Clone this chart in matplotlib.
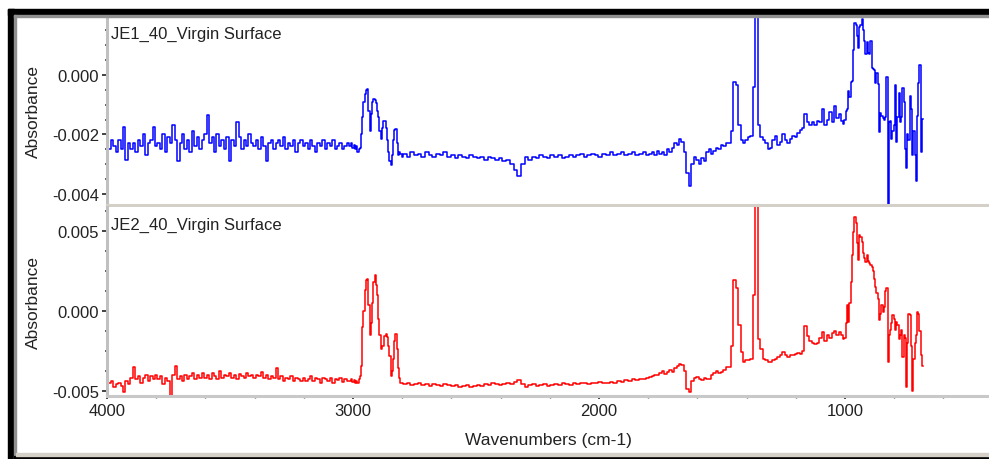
import numpy as np
import matplotlib
matplotlib.use('Agg')
import matplotlib.pyplot as plt
from matplotlib.patches import Rectangle
from matplotlib.ticker import MultipleLocator, FixedLocator, FormatStrFormatter

plt.rcParams['font.family'] = ['Liberation Sans', 'DejaVu Sans']
plt.rcParams['axes.unicode_minus'] = False

# wavenumber sampling (cm-1): coarse on the flat baseline, finer over the bands
wn = np.concatenate([np.arange(4000, 3015, -10), np.arange(3010, 2795, -5),
                     np.arange(2790, 1795, -15), np.arange(1790, 1005, -10),
                     np.arange(1005, 680, -5)])

# absorbance, in milli-absorbance units, one list per wn segment
je1_seg1 = [-2.1, -2.5, -2.2, -2.4, -2.6, -2.2, -2.5, -1.75, -2.85, -2.3,
            -2.5, -2.3, -2.6, -2.2, -2.4, -2.0, -2.7, -2.3, -2.2, -1.75,
            -2.4, -2.3, -2.5, -2.0, -2.6, -2.1, -2.3, -1.7, -2.2, -2.9,
            -2.3, -2.0, -2.5, -2.2, -2.6, -1.9, -2.4, -2.1, -2.5, -2.2,
            -2.0, -1.35, -2.3, -2.1, -2.6, -2.0, -2.4, -2.2, -2.5, -2.1,
            -2.9, -2.2, -2.4, -1.6, -2.1, -2.5, -2.2, -2.4, -2.0, -2.3,
            -2.4, -2.2, -2.5, -2.1, -2.4, -2.9, -2.3, -2.2, -2.5, -2.3,
            -2.2, -2.4, -2.1, -2.5, -2.3, -2.4, -2.2, -2.6, -2.3, -2.2,
            -2.4, -2.3, -2.5, -2.2, -2.4, -2.6, -2.3, -2.4, -2.2, -2.5,
            -2.3, -2.4, -2.2, -2.5, -2.4, -2.3, -2.5, -2.4, -2.3]
je1_seg2 = [-2.4, -2.3, -2.45, -2.35, -2.5, -2.4, -2.6, -2.5, -2.45, -2.0,
            -1.4, -0.9, -0.65, -0.5, -0.47, -1.2, -1.9, -1.3, -0.9, -0.8,
            -0.85, -0.96, -1.2, -1.4, -1.9, -2.15, -1.8, -1.55, -1.55, -1.8,
            -2.2, -2.6, -2.9, -3.03, -2.7, -2.2, -1.85, -1.82, -2.3, -2.7,
            -2.6, -2.65, -2.75]
je1_seg3 = [-2.65, -2.75, -2.6, -2.7, -2.65, -2.75, -2.6, -2.7, -2.75, -2.65,
            -2.7, -2.6, -2.75, -2.7, -2.8, -2.7, -2.75, -2.8, -2.7, -2.75,
            -2.8, -2.75, -2.85, -2.75, -2.8, -2.85, -2.8, -2.9, -2.85, -3.0,
            -3.2, -3.4, -3.0, -2.75, -2.85, -2.75, -2.8, -2.7, -2.75, -2.8,
            -2.7, -2.75, -2.7, -2.8, -2.75, -2.7, -2.75, -2.7, -2.65, -2.75,
            -2.7, -2.65, -2.7, -2.75, -2.65, -2.7, -2.6, -2.7, -2.65, -2.6,
            -2.7, -2.65, -2.6, -2.7, -2.65, -2.6, -2.7]
je1_seg4 = [-2.65, -2.6, -2.7, -2.55, -2.65, -2.6, -2.7, -2.5, -2.6, -2.45,
            -2.3, -2.35, -2.15, -2.25, -2.6, -3.3, -3.75, -3.0, -2.75, -2.85,
            -3.0, -2.8, -2.9, -2.6, -2.5, -2.65, -2.55, -2.45, -2.5, -2.35,
            -2.4, -2.3, -2.3, -1.9, -0.25, -0.35, -1.7, -2.2, -2.3, -2.2,
            -2.1, -2.05, -0.4, 2.5, -1.7, -2.1, -2.2, -2.3, -2.5, -2.45,
            -2.2, -2.05, -2.35, -2.25, -2.0, -2.2, -2.3, -2.15, -2.05, -2.1,
            -1.95, -1.85, -1.8, -1.3, -1.6, -1.7, -1.6, -1.7, -1.55, -1.6,
            -1.15, -1.7, -1.5, -1.25, -1.6, -1.05, -1.45, -1.3, -1.55]
je1_seg5 = [-1.65, -1.5, -1.2, -1.15, -0.55, -0.75, -0.25, -0.2, 0.85, 1.75,
            1.7, 1.3, 0.9, 1.6, 1.7, 1.87, 1.5, 1.15, 0.72, 1.1,
            0.75, 0.7, 1.16, 0.22, 0.2, 0.17, -0.28, 0.06, -0.3, -1.93,
            -1.27, -1.38, -1.45, -1.5, -1.4, -0.06, -4.4, -1.6, -1.55, -2.15,
            -1.9, -1.7, -0.33, -2.26, -1.4, -0.61, -1.6, -1.4, -0.44, -0.9,
            -2.48, -3.14, -2.0, -2.2, -0.72, -1.16, -2.7, -1.9, -2.7, -3.58,
            -1.38, -0.28, 0.33, -2.59, -1.49]

je2_seg1 = [-4.3, -4.5, -4.4, -4.8, -4.6, -4.5, -4.7, -5.1, -4.4, -4.6,
            -4.2, -3.5, -4.3, -4.1, -4.5, -4.2, -4.0, -4.4, -4.1, -4.3,
            -4.0, -4.3, -4.1, -4.6, -4.2, -4.4, -5.3, -4.0, -3.45, -4.3,
            -4.1, -4.4, -4.0, -4.3, -4.1, -3.9, -4.3, -4.0, -4.2, -3.9,
            -4.2, -4.0, -4.3, -3.9, -4.1, -4.3, -3.8, -4.2, -4.0, -4.1,
            -3.9, -4.2, -4.0, -4.3, -3.95, -4.1, -4.2, -3.9, -4.1, -4.0,
            -4.2, -4.0, -4.1, -3.85, -4.2, -4.0, -4.3, -4.1, -4.2, -3.6,
            -4.3, -4.1, -4.4, -4.2, -4.3, -4.1, -4.4, -4.2, -4.3, -4.4,
            -4.2, -4.4, -4.3, -4.1, -4.4, -4.2, -4.3, -4.5, -4.2, -4.3,
            -4.4, -4.2, -4.5, -4.3, -4.35, -4.2, -4.45, -4.3, -4.4]
je2_seg2 = [-4.4, -4.3, -4.45, -4.35, -4.5, -4.4, -4.55, -4.3, -4.07, -3.44,
            -1.0, 0.0, 1.3, 1.91, 1.99, 0.33, -1.55, -0.8, 0.5, 1.8,
            2.26, 1.6, 1.0, -0.5, -1.5, -2.39, -2.2, -2.18, -1.6, -1.45,
            -1.66, -2.2, -2.81, -4.07, -3.8, -3.02, -1.9, -1.45, -2.39, -3.6,
            -4.2, -4.49, -4.55]
je2_seg3 = [-4.6, -4.55, -4.65, -4.6, -4.55, -4.65, -4.6, -4.7, -4.6, -4.65,
            -4.7, -4.6, -4.65, -4.7, -4.65, -4.75, -4.7, -4.65, -4.75, -4.7,
            -4.65, -4.7, -4.6, -4.65, -4.55, -4.6, -4.65, -4.6, -4.55, -4.6,
            -4.45, -4.35, -4.6, -4.75, -4.65, -4.6, -4.7, -4.65, -4.6, -4.7,
            -4.65, -4.6, -4.65, -4.55, -4.6, -4.65, -4.55, -4.6, -4.5, -4.55,
            -4.6, -4.5, -4.55, -4.45, -4.5, -4.55, -4.45, -4.5, -4.4, -4.45,
            -4.35, -4.4, -4.3, -4.35, -4.25, -4.3, -4.2]
je2_seg4 = [-4.15, -4.1, -4.0, -4.05, -3.9, -3.75, -3.95, -3.85, -3.7, -3.85,
            -3.6, -3.45, -3.35, -3.4, -3.75, -4.9, -5.1, -4.4, -4.2, -4.15,
            -4.3, -4.35, -4.2, -4.3, -4.25, -4.0, -3.9, -3.75, -3.9, -3.85,
            -3.7, -3.55, -3.5, -2.2, 1.9, 1.4, -0.9, -2.6, -3.2, -3.1,
            -3.1, -3.0, 1.0, 7.5, -1.8, -2.4, -3.0, -3.1, -3.2, -3.2,
            -3.1, -3.05, -2.9, -2.75, -2.6, -2.75, -2.9, -2.8, -2.75, -2.7,
            -2.65, -2.7, -2.55, -0.95, -1.6, -1.9, -2.05, -2.1, -2.0, -1.7,
            -1.35, -1.9, -1.55, -1.7, -1.4, -1.25, -1.5, -1.35, -1.55]
je2_seg5 = [-1.75, -1.7, -0.8, 0.33, -0.71, 0.5, 1.8, 3.5, 4.9, 5.85,
            5.5, 4.2, 3.16, 4.74, 4.6, 4.3, 3.6, 3.3, 3.06, 3.47,
            3.1, 3.0, 2.85, 2.7, 2.5, 2.0, 1.49, 1.1, 0.75, -0.61,
            -0.2, 0.33, -0.1, 0.2, 1.2, 1.43, -3.23, -1.5, -1.2, -0.8,
            -0.29, -0.5, -1.2, -0.7, -0.92, -1.8, -1.5, -1.2, -2.91, -1.5,
            -1.7, -4.8, -2.0, -0.19, -0.3, -2.2, -5.0, -3.0, -2.0, -1.5,
            -0.08, -0.2, -1.3, -2.8, -3.44]

je1 = np.concatenate([je1_seg1, je1_seg2, je1_seg3, je1_seg4, je1_seg5]) * 1e-3
je2 = np.concatenate([je2_seg1, je2_seg2, je2_seg3, je2_seg4, je2_seg5]) * 1e-3

names = ['JE1_40_Virgin Surface', 'JE2_40_Virgin Surface']
colors = ['#0000ff', '#ff0000']
ylims = [(-0.00438, 0.00197), (-0.0053, 0.00648)]
ymajor = [[-0.004, -0.002, 0.0], [-0.005, 0.0, 0.005]]
yminor = [0.0005, 0.00125]

W, H = 989, 460
fig = plt.figure(figsize=(W / 100, H / 100), dpi=100)

# window frame of the screenshot
fig.patches.append(Rectangle((8 / W, 0), 6 / W, 450 / H, transform=fig.transFigure, color='black', zorder=0))
fig.patches.append(Rectangle((8 / W, 1 - 16 / H), 981 / W, 6 / H, transform=fig.transFigure, color='black', zorder=0))
fig.patches.append(Rectangle((14 / W, 0), 2 / W, 444 / H, transform=fig.transFigure, color='#909090', zorder=0))
fig.patches.append(Rectangle((14 / W, 1 - 17.5 / H), 975 / W, 1.5 / H, transform=fig.transFigure, color='#909090', zorder=0))
fig.patches.append(Rectangle((14 / W, 0), 975 / W, 3 / H, transform=fig.transFigure, color='black', zorder=0))
fig.patches.append(Rectangle((16 / W, 3.5 / H), 973 / W, 2.5 / H, transform=fig.transFigure, color='#d4d0c8', zorder=0))

ax1 = fig.add_axes([107 / W, 1 - 206 / H, 882 / W, 188.5 / H])
ax2 = fig.add_axes([107 / W, 1 - 396.5 / H, 882 / W, 188.5 / H])

for i, (ax, ys) in enumerate(zip([ax1, ax2], [je1, je2])):
    ax.plot(wn, ys, color=colors[i], lw=1.1, drawstyle='steps-mid', clip_on=True)
    ax.set_xlim(4000, 415)
    ax.set_ylim(*ylims[i])
    ax.yaxis.set_major_locator(FixedLocator(ymajor[i]))
    ax.yaxis.set_minor_locator(MultipleLocator(yminor[i]))
    ax.yaxis.set_major_formatter(FormatStrFormatter('%.3f'))
    ax.xaxis.set_major_locator(MultipleLocator(1000))
    ax.xaxis.set_minor_locator(MultipleLocator(200))
    for s in ['top', 'right']:
        ax.spines[s].set_visible(False)
    ax.spines['left'].set_color('#c0c0c0')
    ax.spines['left'].set_linewidth(2.2)
    ax.spines['bottom'].set_color('#c8c8c8' if i == 1 else '#d4d0c8')
    ax.spines['bottom'].set_linewidth(2.2)
    ax.tick_params(axis='y', which='major', direction='out', length=3.5, width=1.2,
                   color='#222222', labelsize=12, pad=2, labelcolor='#222222')
    ax.tick_params(axis='y', which='minor', direction='out', length=1.5, width=1.2, color='#444444')
    ax.tick_params(axis='x', which='major', direction='out', length=2.5, width=1.2,
                   color='#222222', labelsize=12, pad=3, labelcolor='#222222')
    ax.tick_params(axis='x', which='minor', direction='out', length=1.5, width=1.0, color='#444444')
    ax.set_ylabel('Absorbance', fontsize=12.5, color='#222222')
    ax.yaxis.set_label_coords(-66 / 882, 0.5)
    ax.text(4 / 882, 0.91, names[i], transform=ax.transAxes, fontsize=12,
            color='#222222', ha='left', va='center')

ax1.tick_params(axis='x', which='both', bottom=False, labelbottom=False)
ax2.set_xticks([4000, 3000, 2000, 1000])
ax2.set_xlabel('Wavenumbers (cm-1)', fontsize=12.5, color='#222222', labelpad=10)

fig.savefig('out.png', dpi=100)
